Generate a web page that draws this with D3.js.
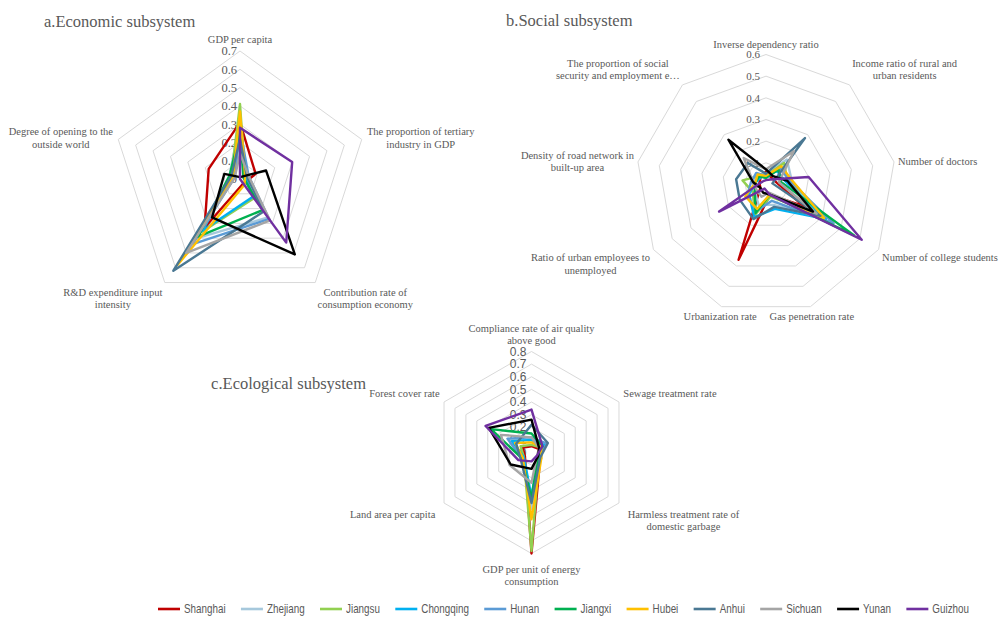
<!DOCTYPE html>
<html>
<head>
<meta charset="utf-8">
<script src="https://cdn.jsdelivr.net/npm/d3@7/dist/d3.min.js"></script>
<style>
  body { margin: 0; background: #fff; }
  svg { display: block; }
</style>
</head>
<body>
<svg id="chart" width="999" height="619"></svg>
<script>
// Provinces and their line colours
const provinces = ["Shanghai", "Zhejiang", "Jiangsu", "Chongqing", "Hunan", "Jiangxi",
                   "Hubei", "Anhui", "Sichuan", "Yunan", "Guizhou"];
const provinceColors = ["#C00000", "#A6C8DC", "#92D050", "#00B0F0", "#5B9BD5", "#00B050",
                        "#FFC000", "#4A7893", "#A5A5A5", "#000000", "#7030A0"];

// a. Economic subsystem
const econAxes = [
  ["GDP per capita"],
  ["The proportion of tertiary", "industry in GDP"],
  ["Contribution rate of", "consumption economy"],
  ["R&D expenditure input", "intensity"],
  ["Degree of opening to the", "outside world"]
];
const econTicks = [0, 0.1, 0.2, 0.3, 0.4, 0.5, 0.6, 0.7];
const econValues = [
  [0.31, 0.09, 0.03, 0.33, 0.18],   // Shanghai
  [0.32, 0.04, 0.26, 0.40, 0.06],   // Zhejiang
  [0.41, 0.03, 0.13, 0.36, 0.05],   // Jiangsu
  [0.30, 0.03, 0.12, 0.35, 0.04],   // Chongqing
  [0.27, 0.05, 0.27, 0.44, 0.03],   // Hunan
  [0.25, 0.02, 0.21, 0.39, 0.06],   // Jiangxi
  [0.37, 0.03, 0.04, 0.58, 0.04],   // Hubei
  [0.22, 0.04, 0.22, 0.62, 0.05],   // Anhui
  [0.14, 0.05, 0.28, 0.50, 0.03],   // Sichuan
  [0.01, 0.15, 0.51, 0.26, 0.09],   // Yunan
  [0.28, 0.30, 0.43, 0.00, 0.00]    // Guizhou
];

// b. Social subsystem
const socialAxes = [
  ["Inverse dependency ratio"],
  ["Income ratio of rural and", "urban residents"],
  ["Number of doctors"],
  ["Number of college students"],
  ["Gas penetration rate"],
  ["Urbanization rate"],
  ["Ratio of urban employees to", "unemployed"],
  ["Density of road network in", "built-up area"],
  ["The proportion of social", "security and employment e\u2026"]
];
const socialTicks = [0, 0.1, 0.2, 0.3, 0.4, 0.5, 0.6];
const socialValues = [
  [0.06, 0.04, 0.05, 0.20, 0.05, 0.37, 0.03, 0.03, 0.04],   // Shanghai
  [0.05, 0.15, 0.12, 0.30, 0.10, 0.10, 0.06, 0.06, 0.06],   // Zhejiang
  [0.04, 0.13, 0.10, 0.28, 0.06, 0.15, 0.07, 0.11, 0.05],   // Jiangsu
  [0.05, 0.08, 0.09, 0.32, 0.12, 0.16, 0.09, 0.05, 0.04],   // Chongqing
  [0.04, 0.10, 0.11, 0.36, 0.08, 0.13, 0.10, 0.07, 0.07],   // Hunan
  [0.03, 0.09, 0.07, 0.47, 0.05, 0.14, 0.06, 0.05, 0.05],   // Jiangxi
  [0.04, 0.11, 0.12, 0.31, 0.05, 0.12, 0.11, 0.05, 0.06],   // Hubei
  [0.05, 0.28, 0.03, 0.29, 0.11, 0.17, 0.14, 0.14, 0.13],   // Anhui
  [0.07, 0.20, 0.06, 0.27, 0.04, 0.06, 0.05, 0.06, 0.16],   // Sichuan
  [0.07, 0.05, 0.10, 0.25, 0.05, 0.04, 0.03, 0.06, 0.27],   // Yunan
  [0.02, 0.03, 0.20, 0.51, 0.05, 0.02, 0.25, 0.03, 0.02]    // Guizhou
];

// c. Ecological subsystem
const ecoAxes = [
  ["Compliance rate of air quality", "above good"],
  ["Sewage treatment rate"],
  ["Harmless treatment rate of", "domestic garbage"],
  ["GDP per unit of energy", "consumption"],
  ["Land area per capita"],
  ["Forest cover rate"]
];
const ecoTicks = [0, 0.1, 0.2, 0.3, 0.4, 0.5, 0.6, 0.7, 0.8];
const ecoValues = [
  [0.05, 0.06, 0.08, 0.80, 0.06, 0.08],   // Shanghai
  [0.10, 0.10, 0.08, 0.45, 0.08, 0.20],   // Zhejiang
  [0.06, 0.08, 0.07, 0.78, 0.07, 0.10],   // Jiangsu
  [0.10, 0.12, 0.06, 0.35, 0.07, 0.18],   // Chongqing
  [0.12, 0.14, 0.07, 0.38, 0.09, 0.22],   // Hunan
  [0.15, 0.10, 0.06, 0.36, 0.09, 0.37],   // Jiangxi
  [0.08, 0.09, 0.09, 0.53, 0.08, 0.15],   // Hubei
  [0.22, 0.15, 0.08, 0.40, 0.10, 0.14],   // Anhui
  [0.12, 0.07, 0.05, 0.24, 0.20, 0.28],   // Sichuan
  [0.26, 0.07, 0.06, 0.13, 0.19, 0.39],   // Yunan
  [0.34, 0.10, 0.05, 0.07, 0.12, 0.42]    // Guizhou
];

const svg = d3.select("#chart");
const TEXT = "#595959";
const GRID = "#D9D9D9";
const SERIF = "'Liberation Serif', 'Times New Roman', serif";
const SANS = "'Liberation Sans', Arial, sans-serif";

function drawRadar(cfg) {
  const { cx, cy, radius, ticks, axes, values, title, titleX, titleY, titleAnchor,
          tickFont, tickSize, tickGap, labelSize, lineH, offUp, offDown } = cfg;
  const g = svg.append("g");
  const n = axes.length;
  const max = ticks[ticks.length - 1];
  const r = d3.scaleLinear().domain([0, max]).range([0, radius]);
  const ang = d3.scaleLinear().domain([0, n]).range([0, 2 * Math.PI]);
  const radial = d3.lineRadial()
      .angle((d, i) => ang(i))
      .radius(d => r(d))
      .curve(d3.curveLinearClosed);

  // title
  g.append("text")
    .attr("x", titleX).attr("y", titleY).attr("dy", "0.35em")
    .attr("text-anchor", titleAnchor || "start")
    .attr("font-family", SERIF).attr("font-size", 16.5)
    .attr("fill", TEXT).text(title);

  const plot = g.append("g").attr("transform", `translate(${cx},${cy})`);

  // polygonal grid rings
  plot.selectAll("path.ring")
    .data(ticks.filter(t => t > 0))
    .join("path")
    .attr("class", "ring")
    .attr("d", t => radial(d3.range(n).map(() => t)))
    .attr("fill", "none").attr("stroke", GRID).attr("stroke-width", 1);

  // value labels up the first spoke
  plot.selectAll("text.tick")
    .data(ticks)
    .join("text")
    .attr("class", "tick")
    .attr("x", -tickGap).attr("y", t => -r(t)).attr("dy", "0.35em")
    .attr("text-anchor", "end")
    .attr("font-family", tickFont).attr("font-size", tickSize)
    .attr("fill", TEXT)
    .text(t => d3.format(".1~f")(t));

  // category labels around the outside
  axes.forEach((lines, i) => {
    const a = ang(i);
    const dx = Math.sin(a), dy = -Math.cos(a);
    const off = dy > 0.05 ? offDown : offUp;
    const px = cx + (radius + off) * dx;
    const py = cy + (radius + off) * dy;
    const lab = g.append("text")
      .attr("font-family", SERIF).attr("font-size", labelSize)
      .attr("fill", TEXT).attr("text-anchor", "middle");
    const spans = lab.selectAll("tspan").data(lines).join("tspan").text(d => d);
    let w = 0;
    spans.each(function () { w = Math.max(w, this.getComputedTextLength()); });
    const h = lines.length * lineH;
    let xc = px;
    if (dx > 0.4) xc = px + w / 2;
    else if (dx < -0.4) xc = px - w / 2;
    let top = py - h / 2;
    if (dy <= -0.45) top = py - h;
    else if (dy >= 0.45) top = py;
    spans.attr("x", xc)
      .attr("y", (d, k) => top + lineH * (k + 0.5))
      .attr("dy", "0.35em");
  });

  // one closed line per province
  plot.selectAll("path.series")
    .data(values)
    .join("path")
    .attr("class", "series")
    .attr("d", v => radial(v))
    .attr("fill", "none")
    .attr("stroke", (v, i) => provinceColors[i])
    .attr("stroke-width", 2.4)
    .attr("stroke-linejoin", "round");
}

drawRadar({
  cx: 240, cy: 179, radius: 128, ticks: econTicks, axes: econAxes, values: econValues,
  title: "a.Economic subsystem", titleX: 44, titleY: 21.5,
  tickFont: SERIF, tickSize: 12.5, tickGap: 3, labelSize: 10.5, lineH: 12.3,
  offUp: 5.5, offDown: 4
});

drawRadar({
  cx: 766, cy: 184.5, radius: 130, ticks: socialTicks, axes: socialAxes, values: socialValues,
  title: "b.Social subsystem", titleX: 506, titleY: 20,
  tickFont: SERIF, tickSize: 11, tickGap: 6, labelSize: 10.5, lineH: 12.3,
  offUp: 4, offDown: 4
});

drawRadar({
  cx: 531.5, cy: 452.5, radius: 101, ticks: ecoTicks, axes: ecoAxes, values: ecoValues,
  title: "c.Ecological subsystem", titleX: 366, titleY: 383, titleAnchor: "end",
  tickFont: SANS, tickSize: 12, tickGap: 5, labelSize: 10.5, lineH: 12.2,
  offUp: 5, offDown: 10
});

// legend along the bottom, condensed sans text
const legend = svg.append("g");
const legY = 609, legLeft = 158, legRight = 969, symW = 22, symGap = 4, squeeze = 0.82;
const items = legend.selectAll("g.item").data(provinces).join("g").attr("class", "item");
items.append("line")
  .attr("x1", 0).attr("x2", symW).attr("y1", 0).attr("y2", 0)
  .attr("stroke", (d, i) => provinceColors[i]).attr("stroke-width", 2.6);
const labels = items.append("text")
  .attr("transform", `translate(${symW + symGap},0) scale(${squeeze},1)`)
  .attr("dy", "0.35em")
  .attr("font-family", SANS).attr("font-size", 12).attr("fill", TEXT)
  .text(d => d);
const widths = [];
labels.each(function () { widths.push(this.getComputedTextLength() * squeeze); });
const itemW = widths.map(w => symW + symGap + w);
const spacing = (legRight - legLeft - d3.sum(itemW)) / (provinces.length - 1);
let xPos = legLeft;
items.attr("transform", (d, i) => {
  const t = `translate(${xPos},${legY})`;
  xPos += itemW[i] + spacing;
  return t;
});
</script>
</body>
</html>
